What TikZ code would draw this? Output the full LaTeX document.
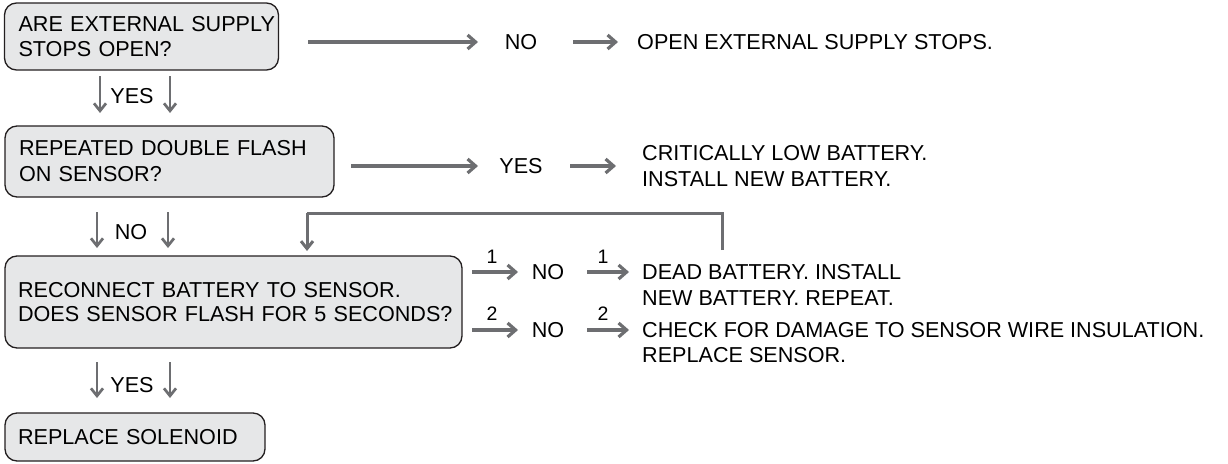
\documentclass[tikz,border=0pt]{standalone}
\usepackage{fontspec}
\setmainfont{Liberation Sans}
\usetikzlibrary{arrows.meta,calc}
\definecolor{arrgray}{HTML}{6D6E71}
\definecolor{boxfill}{HTML}{E6E7E8}
\definecolor{boxline}{HTML}{231F20}
\begin{document}
\begin{tikzpicture}[x=1pt,y=-1pt,
  box/.style={draw=boxline, line width=1.3pt, fill=boxfill, rounded corners=12pt,
    inner sep=0pt, align=left},
  txt/.style={inner sep=0pt, align=left, font=\fontsize{21.6}{25.5}\selectfont},
  num/.style={inner sep=0pt, font=\fontsize{19.5}{21}\selectfont},
  harr/.style={draw=arrgray, line width=3.2pt, -{Straight Barb[length=8pt,width=14pt]}},
  varr/.style={draw=arrgray, line width=2.7pt, -{Straight Barb[length=7.5pt,width=12pt]}},
  fline/.style={draw=arrgray, line width=3pt}]
\useasboundingbox (0,0) rectangle (1228,463);
% boxes
\node[box, minimum width=274pt, minimum height=67pt, text width=246pt,
  font=\fontsize{21.6}{25}\selectfont] (b1) at (141.5,36.5)
  {\mbox{ARE EXTERNAL SUPPLY}\\\mbox{STOPS OPEN?}};
\node[box, minimum width=329pt, minimum height=71pt, text width=301pt,
  font=\fontsize{21.6}{26}\selectfont] (b2) at (169.5,161.5)
  {\mbox{REPEATED DOUBLE FLASH}\\\mbox{ON SENSOR?}};
\node[box, minimum width=457pt, minimum height=92pt, text width=431pt,
  font=\fontsize{21.6}{23.5}\selectfont] (b3) at (233.5,302)
  {\mbox{RECONNECT BATTERY TO SENSOR.}\\\mbox{DOES SENSOR FLASH FOR 5 SECONDS?}};
\node[box, minimum width=260pt, minimum height=48pt, text width=234pt,
  font=\fontsize{21.6}{25}\selectfont] (b4) at (135,437)
  {\mbox{REPLACE SOLENOID}};
% vertical labels
\node[txt] (y1) at (132,96) {YES};
\node[txt] (n1) at (131,232) {NO};
\node[txt] (y2) at (132,385) {YES};
% vertical arrow coordinates
\coordinate (v1a) at (100,76);  \coordinate (v1b) at (100,113);
\coordinate (v2a) at (170,76);  \coordinate (v2b) at (170,113);
\coordinate (v3a) at (97,212);  \coordinate (v3b) at (97,248);
\coordinate (v4a) at (168,212); \coordinate (v4b) at (168,248);
\coordinate (v5a) at (97,362);  \coordinate (v5b) at (97,398);
\coordinate (v6a) at (170,362); \coordinate (v6b) at (170,398);
\draw[varr] (v1a) -- (v1b);
\draw[varr] (v2a) -- (v2b);
\draw[varr] (v3a) -- (v3b);
\draw[varr] (v4a) -- (v4b);
\draw[varr] (v5a) -- (v5b);
\draw[varr] (v6a) -- (v6b);
% row 1
\node[txt] (no1) at (521,42) {NO};
\node[txt, anchor=west] (t1) at (637,42) {OPEN EXTERNAL SUPPLY STOPS.};
\coordinate (r1a) at (308,42); \coordinate (r1b) at (478,42);
\draw[harr] (r1a) -- (r1b);
\coordinate (r1c) at (573,42); \coordinate (r1d) at (618,42);
\draw[harr] (r1c) -- (r1d);
% row 2
\node[txt] (yes2) at (521,166) {YES};
\node[txt, anchor=west] (t2) at (642,166) {CRITICALLY LOW BATTERY.\\INSTALL NEW BATTERY.};
\coordinate (r2a) at (351,166); \coordinate (r2b) at (478,166);
\draw[harr] (r2a) -- (r2b);
\coordinate (r2c) at (570,166); \coordinate (r2d) at (616,166);
\draw[harr] (r2c) -- (r2d);
% row 3
\node[txt] (no3) at (548,272) {NO};
\node[txt, anchor=west] (t3) at (642,285) {DEAD BATTERY. INSTALL\\NEW BATTERY. REPEAT.};
\coordinate (r3a) at (472,272); \coordinate (r3b) at (518,272);
\coordinate (r3c) at (587,272); \coordinate (r3d) at (629,272);
\draw[harr] (r3a) -- (r3b);
\draw[harr] (r3c) -- (r3d);
\node[num] (l31) at (492,257) {1};
\node[num] (l32) at (603,257) {1};
% row 4
\node[txt] (no4) at (548,330) {NO};
\node[txt, anchor=west] (t4) at (642,342.5) {CHECK FOR DAMAGE TO SENSOR WIRE INSULATION.\\REPLACE SENSOR.};
\coordinate (r4a) at (472,330); \coordinate (r4b) at (518,330);
\coordinate (r4c) at (587,330); \coordinate (r4d) at (629,330);
\draw[harr] (r4a) -- (r4b);
\draw[harr] (r4c) -- (r4d);
\node[num] (l41) at (492,314) {2};
\node[num] (l42) at (603,314) {2};
% feedback
\coordinate (fb0) at (722,250);
\coordinate (fb1) at (722,213);
\coordinate (fb2) at (307,213);
\coordinate (fb3) at (307,251);
\draw[fline] (fb0) -- (fb1) -- (fb2);
\draw[varr, line width=3pt] (fb2) -- (fb3);
\end{tikzpicture}
\end{document}
